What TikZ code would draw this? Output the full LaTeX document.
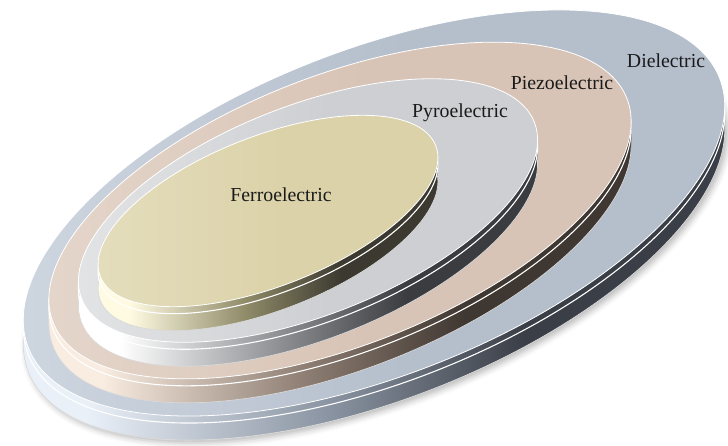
\documentclass[tikz,border=0pt]{standalone}
\usepackage{fontspec}
\setmainfont{Liberation Serif}
\usetikzlibrary{shadows.blur}
\definecolor{ferroTop}{HTML}{DBD2A9}
\definecolor{ferroTopL}{HTML}{E4DDBC}
\definecolor{ferroSideL}{HTML}{FFFBE2}
\definecolor{ferroSideM}{HTML}{8F8A68}
\definecolor{ferroSideR}{HTML}{3C3A30}
\definecolor{pyroTop}{HTML}{CDCFD2}
\definecolor{pyroTopL}{HTML}{E2E3E5}
\definecolor{pyroSideL}{HTML}{FFFFFF}
\definecolor{pyroSideM}{HTML}{8E9094}
\definecolor{pyroSideR}{HTML}{3A3C40}
\definecolor{piezoTop}{HTML}{D8C4B6}
\definecolor{piezoTopL}{HTML}{E4D5CA}
\definecolor{piezoSideL}{HTML}{F9ECE1}
\definecolor{piezoSideM}{HTML}{8F7F74}
\definecolor{piezoSideR}{HTML}{3F3731}
\definecolor{dielTop}{HTML}{B5BFCC}
\definecolor{dielTopL}{HTML}{CDD5DF}
\definecolor{dielSideL}{HTML}{EAF0F8}
\definecolor{dielSideM}{HTML}{8A94A2}
\definecolor{dielSideR}{HTML}{3A3E46}
\definecolor{labelInk}{HTML}{1A1A1A}

% rim and face shadings of each layer (the path box spans 25bp--75bp)
\newcommand\declarelayershadings[1]{%
  \pgfdeclarehorizontalshading{#1side}{100bp}{%
    color(0bp)=(#1SideL); color(31bp)=(#1SideL);
    color(47bp)=(#1SideM); color(60bp)=(#1SideR); color(100bp)=(#1SideR)}%
  \pgfdeclarehorizontalshading{#1face}{100bp}{%
    color(0bp)=(#1TopL); color(27bp)=(#1TopL);
    color(52bp)=(#1Top); color(100bp)=(#1Top)}%
}
\declarelayershadings{ferro}
\declarelayershadings{pyro}
\declarelayershadings{piezo}
\declarelayershadings{diel}

% one tilted disc: centre x, centre y, x radius, y radius, layer name
\newcommand\drawdisc[5]{%
  % the rim, built from the face swept downwards
  \foreach \s in {24,22,...,2}{
    \begin{scope}[yshift=-\s, shift={(#1,#2)}, rotate=21.3]
      \shade[shading=#5side] (0,0) ellipse[x radius=#3, y radius=#4];
    \end{scope}
  }
  \begin{scope}[yshift=-24, shift={(#1,#2)}, rotate=21.3]
    \draw[rimedge] (0,0) ellipse[x radius=#3, y radius=#4];
  \end{scope}
  \begin{scope}[yshift=-7, shift={(#1,#2)}, rotate=21.3]
    \draw[rimline] (0,0) ellipse[x radius=#3, y radius=#4];
  \end{scope}
  % the face
  \begin{scope}[shift={(#1,#2)}, rotate=21.3]
    \shade[shading=#5face, draw=white, line width=0.8]
      (0,0) ellipse[x radius=#3, y radius=#4];
  \end{scope}
}

\begin{document}
\begin{tikzpicture}[x=1pt, y=1pt,
  rimline/.style={draw=white, line width=1.1},
  rimedge/.style={draw=white!70!gray, line width=0.7},
  layerlabel/.style={font=\fontsize{19.8}{24}\selectfont, text=labelInk, inner sep=0}]
  \useasboundingbox (0,0) rectangle (728,445);

  % soft shadow under the outer disc
  \begin{scope}[yshift=-24, shift={(374,232)}, rotate=21.3]
    \fill[white, blur shadow={shadow xshift=3pt, shadow yshift=-3pt,
        shadow blur radius=6pt, shadow opacity=28}]
      (0,0) ellipse[x radius=371, y radius=163];
  \end{scope}

  \drawdisc{374}{232}{371}{163}{diel}
  \drawdisc{340}{234.5}{308}{135}{piezo}
  \drawdisc{308}{234.5}{243}{105}{pyro}
  \drawdisc{268}{234}{180}{75}{ferro}

  \node[layerlabel] (ferro) at (281,250) {Ferroelectric};
  \node[layerlabel] (pyro)  at (460,332) {Pyroelectric};
  \node[layerlabel] (piezo) at (562,362) {Piezoelectric};
  \node[layerlabel] (diel)  at (666,384) {Dielectric};
\end{tikzpicture}
\end{document}
